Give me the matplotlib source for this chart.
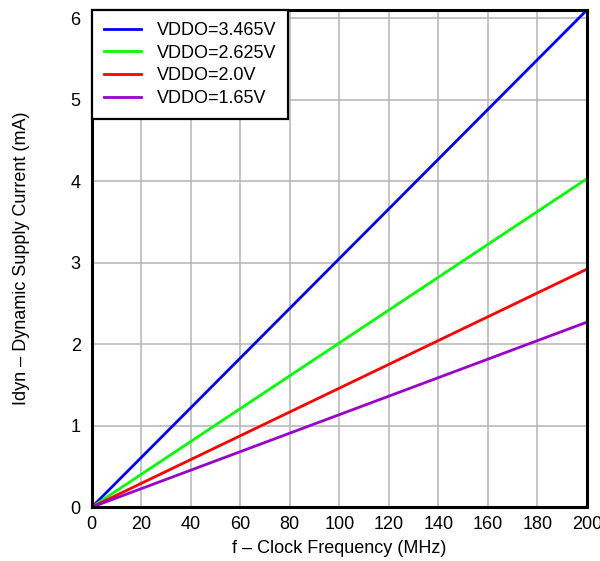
import matplotlib
matplotlib.use('Agg')
import matplotlib.pyplot as plt
import numpy as np

plt.rcParams['font.family'] = ['Liberation Sans', 'DejaVu Sans']

# Data
freq = [0, 200]
labels = ['VDDO=3.465V', 'VDDO=2.625V', 'VDDO=2.0V', 'VDDO=1.65V']
idyn_end = [6.10, 4.03, 2.92, 2.27]
colors = ['#0000ff', '#00ff00', '#ff0000', '#9900cc']

fig = plt.figure(figsize=(6, 5.61), dpi=100)
ax = fig.add_axes([0.153, 0.096, 0.825, 0.886])

for lab, y1, c in zip(labels, idyn_end, colors):
    ax.plot(freq, [0, y1], color=c, lw=2, label=lab)

ax.set_xlim(0, 200)
ax.set_ylim(0, 6.1)
ax.set_xticks(np.arange(0, 201, 20))
ax.set_yticks(np.arange(0, 7, 1))
ax.grid(True, color='#b4b4b4', lw=1.1)
ax.set_axisbelow(True)
for s in ax.spines.values():
    s.set_linewidth(2.2)
ax.tick_params(axis='x', labelsize=13, length=0, pad=6.5)
ax.tick_params(axis='y', labelsize=13, length=0, pad=8)

ax.set_xlabel('f \u2013 Clock Frequency (MHz)', fontsize=13, labelpad=5)
ax.set_ylabel('Idyn \u2013 Dynamic Supply Current (mA)', fontsize=13, labelpad=29)

leg = ax.legend(loc='upper left', fontsize=13, fancybox=False, framealpha=1,
                edgecolor='black', borderaxespad=0, handlelength=2.1,
                handletextpad=0.85, borderpad=0.65, labelspacing=0.32)
leg.get_frame().set_linewidth(1.6)

fig.savefig('out.png', dpi=100)
